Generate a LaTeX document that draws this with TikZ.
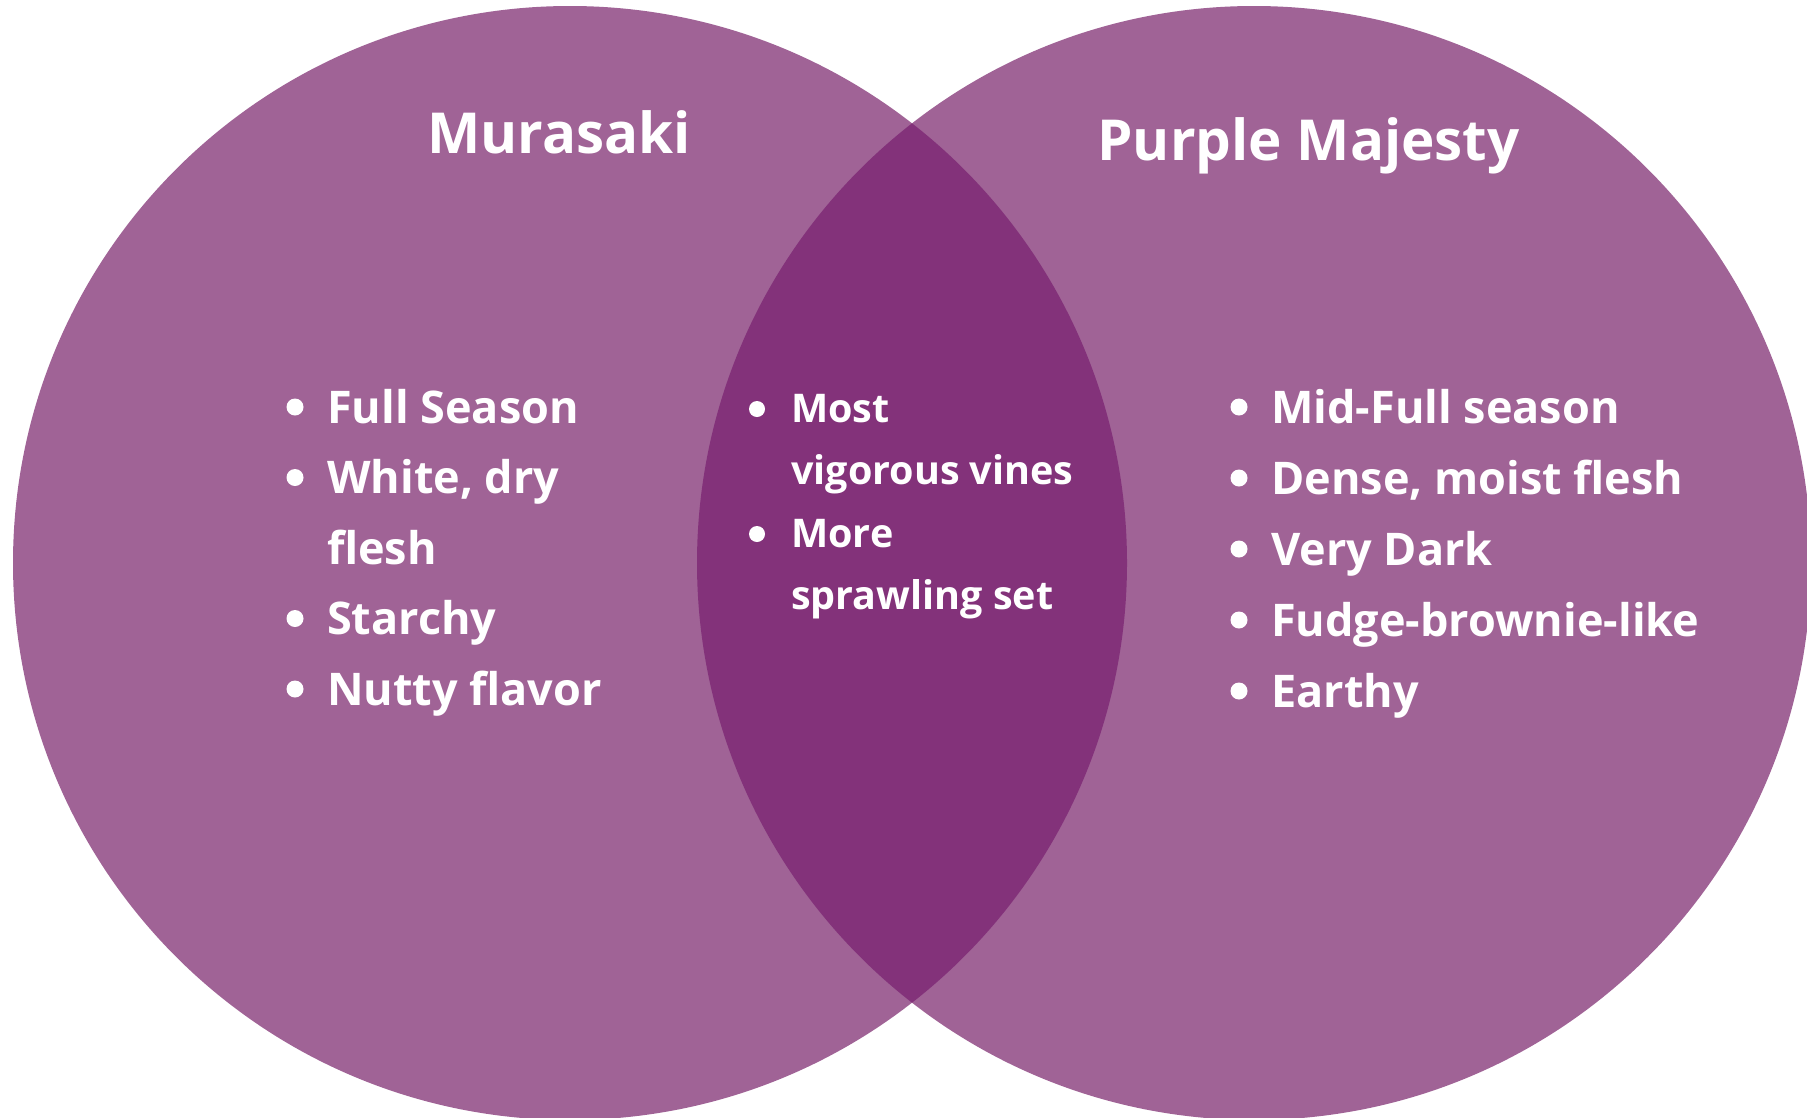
\documentclass[tikz,border=0pt]{standalone}
\usepackage{fontspec}
\setmainfont{Open Sans}
\definecolor{lightplum}{RGB}{160,99,150}
\definecolor{darkplum}{RGB}{131,50,122}
\tikzset{
  title/.style={anchor=base, text=white, inner sep=0pt, font=\bfseries\fontsize{56.5}{68}\selectfont},
  item/.style={anchor=base west, text=white, inner sep=0pt, font=\bfseries\fontsize{45}{54}\selectfont},
  middleitem/.style={item, font=\bfseries\fontsize{39.5}{48}\selectfont},
}
\begin{document}
\begin{tikzpicture}[x=1pt,y=-1pt]
	\useasboundingbox (0,0) rectangle (1807,1117);
	% the two sets
	\fill[lightplum] (570,563) circle (557pt);
	\fill[lightplum] (1254,563) circle (557pt);
	\begin{scope}
		\clip (570,563) circle (557pt);
		\fill[darkplum] (1254,563) circle (557pt);
	\end{scope}
	% titles
	\node[title] (murasaki) at (559,153) {Murasaki};
	\node[title] (majesty) at (1308.5,160) {Purple Majesty};
	% left
	\node[item] (l1) at (327,423) {Full Season};
	\node[item] (l2) at (327,493.5) {White, dry};
	\node[item] (l2b) at (327,564) {flesh};
	\node[item] (l3) at (327,634.5) {Starchy};
	\node[item] (l4) at (327,705) {Nutty flavor};
	\foreach \y in {423,493.5,634.5,705}
		\fill[white] (295,\y-16) circle (8.5pt);
	% both
	\node[middleitem] (m1) at (791,422) {Most};
	\node[middleitem] (m1b) at (791,484.5) {vigorous vines};
	\node[middleitem] (m2) at (791,547) {More};
	\node[middleitem] (m2b) at (791,609.5) {sprawling set};
	\foreach \y in {422,547}
		\fill[white] (757,\y-13) circle (8pt);
	% right
	\node[item] (r1) at (1271,423) {Mid-Full season};
	\node[item] (r2) at (1271,494) {Dense, moist flesh};
	\node[item] (r3) at (1271,565) {Very Dark};
	\node[item] (r4) at (1271,636) {Fudge-brownie-like};
	\node[item] (r5) at (1271,707) {Earthy};
	\foreach \y in {423,494,565,636,707}
		\fill[white] (1239,\y-16) circle (8.5pt);
\end{tikzpicture}
\end{document}
